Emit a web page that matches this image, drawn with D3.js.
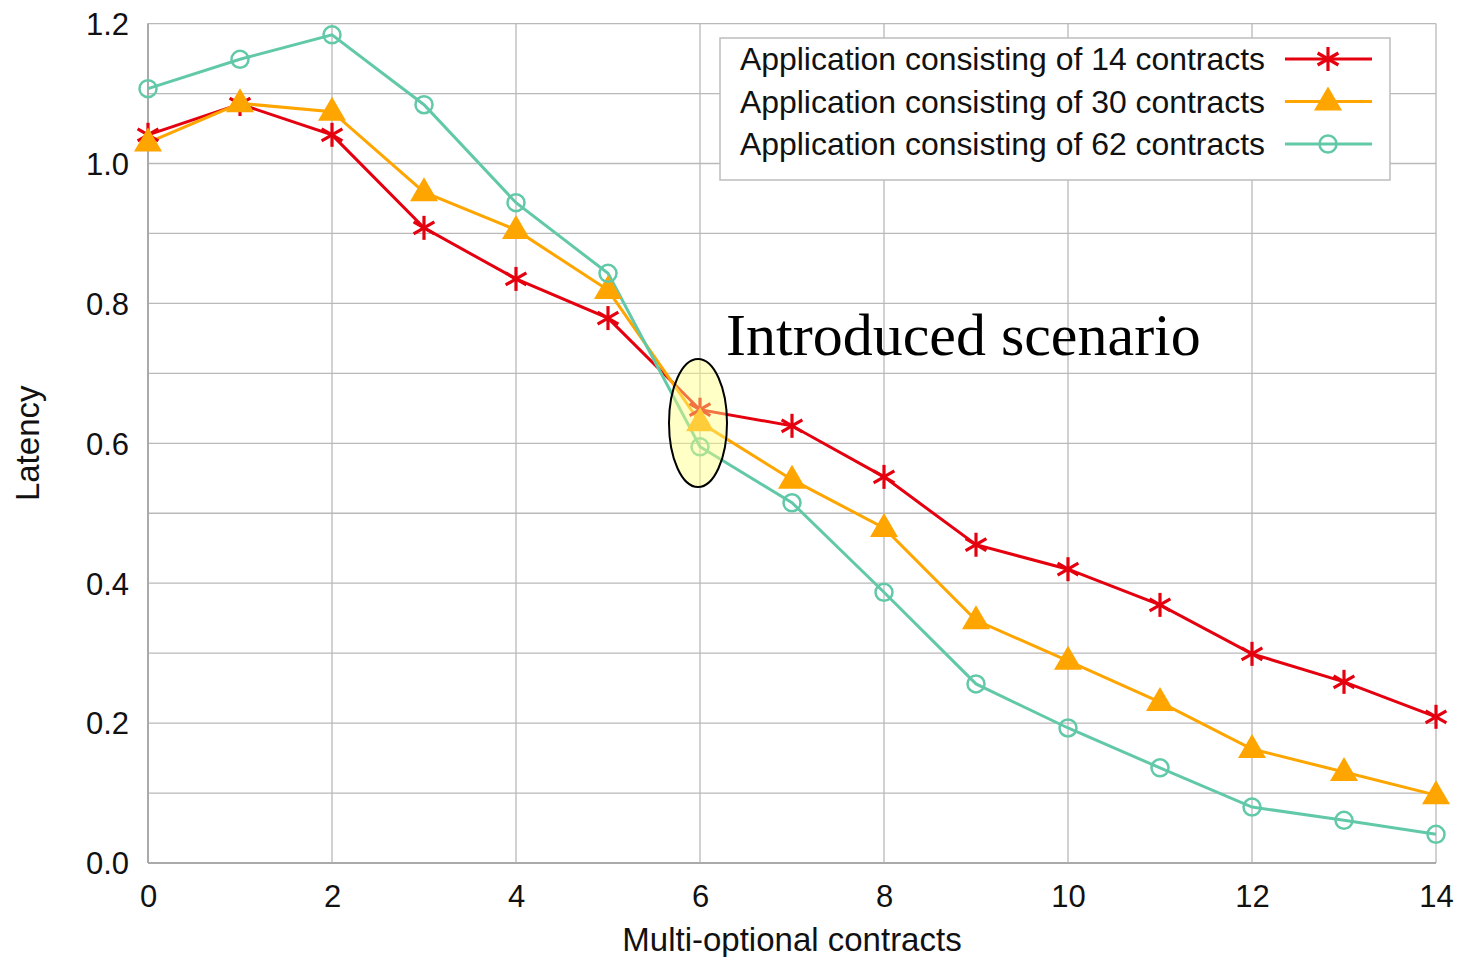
<!DOCTYPE html>
<html><head><meta charset="utf-8">
<script src="https://cdn.jsdelivr.net/npm/d3@7"></script>
<style>body{margin:0;background:#fff}svg{display:block}</style>
</head><body>
<svg id="c" width="1460" height="957"></svg>
<script>
const xValues = [0,1,2,3,4,5,6,7,8,9,10,11,12,13,14];
const seriesNames = ["Application consisting of 14 contracts","Application consisting of 30 contracts","Application consisting of 62 contracts"];
const s14 = [1.041,1.085,1.041,0.908,0.835,0.779,0.648,0.625,0.552,0.455,0.420,0.369,0.299,0.259,0.209];
const s30 = [1.030,1.086,1.074,0.959,0.905,0.819,0.630,0.548,0.479,0.347,0.289,0.230,0.163,0.130,0.097];
const s62 = [1.107,1.149,1.184,1.084,0.944,0.843,0.595,0.515,0.387,0.256,0.193,0.136,0.080,0.061,0.041];
const xTicks = [0,2,4,6,8,10,12,14];
const yTicks = [0,0.2,0.4,0.6,0.8,1.0,1.2];
const yGrid = [0,0.1,0.2,0.3,0.4,0.5,0.6,0.7,0.8,0.9,1.0,1.1,1.2];
const colors = ["#e5000f","#ffa500","#62c9a8"];
const markers = ["star","triangle","circle"];
const annotation = {text:"Introduced scenario", x:6};

const svg = d3.select("#c");
const x = d3.scaleLinear().domain([0,14]).range([148,1436]);
const y = d3.scaleLinear().domain([0,1.2]).range([863,23.6]);
const font = "'Liberation Sans', Arial, sans-serif";
const grid = "#b9b9b9";

// grids
svg.append("g").selectAll("line").data(yGrid).join("line")
  .attr("x1",x(0)).attr("x2",x(14)).attr("y1",d=>y(d)).attr("y2",d=>y(d))
  .attr("stroke",grid).attr("stroke-width",1.3);
svg.append("g").selectAll("line").data(xTicks).join("line")
  .attr("x1",d=>x(d)).attr("x2",d=>x(d)).attr("y1",y(0)).attr("y2",y(1.2))
  .attr("stroke",grid).attr("stroke-width",1.3);
// axis lines
svg.append("line").attr("x1",x(0)).attr("x2",x(0)).attr("y1",y(0)).attr("y2",y(1.2)).attr("stroke","#aaa").attr("stroke-width",2);
svg.append("line").attr("x1",x(0)).attr("x2",x(14)).attr("y1",y(0)).attr("y2",y(0)).attr("stroke","#aaa").attr("stroke-width",2);

// axes via d3
const xAxis = svg.append("g").attr("transform",`translate(0,${y(0)})`)
  .call(d3.axisBottom(x).tickValues(xTicks).tickSize(0).tickPadding(22).tickFormat(d3.format("d")));
const yAxis = svg.append("g").attr("transform",`translate(${x(0)},0)`)
  .call(d3.axisLeft(y).tickValues(yTicks).tickSize(0).tickPadding(19).tickFormat(d3.format(".1f")));
[xAxis,yAxis].forEach(a=>{a.select(".domain").remove();
  a.selectAll("text").attr("font-family",font).attr("font-size",31).attr("fill","#111");});
xAxis.selectAll("text").attr("dy","0.72em");
yAxis.selectAll("text").attr("dy","0.35em");

// axis titles
svg.append("text").attr("x",x(7)).attr("y",951).attr("text-anchor","middle")
  .attr("font-family",font).attr("font-size",33).attr("fill","#111").text("Multi-optional contracts");
svg.append("text").attr("transform",`translate(39,${y(0.6)}) rotate(-90)`).attr("text-anchor","middle")
  .attr("font-family",font).attr("font-size",33).attr("fill","#111").text("Latency");

function drawMarker(g,type,color,cx,cy){
  if(type==="star"){
    const r=12;
    [[0,1],[0.866,0.5],[0.866,-0.5]].forEach(([dx,dy])=>{
      g.append("line").attr("x1",cx-dx*r).attr("y1",cy-dy*r).attr("x2",cx+dx*r).attr("y2",cy+dy*r)
        .attr("stroke",color).attr("stroke-width",3.2);
    });
  } else if(type==="triangle"){
    g.append("path").attr("d",`M${cx},${cy-15}L${cx+14},${cy+9}L${cx-14},${cy+9}Z`).attr("fill",color);
  } else {
    g.append("circle").attr("cx",cx).attr("cy",cy).attr("r",8.5).attr("fill","none")
      .attr("stroke",color).attr("stroke-width",2.5);
  }
}

const data = [s14,s30,s62];
const line = d3.line().x((d,i)=>x(xValues[i])).y(d=>y(d));
data.forEach((s,k)=>{
  const g = svg.append("g");
  g.append("path").datum(s).attr("d",line).attr("fill","none").attr("stroke",colors[k]).attr("stroke-width",3);
});
data.forEach((s,k)=>{
  const g = svg.append("g");
  s.forEach((v,i)=>drawMarker(g,markers[k],colors[k],x(xValues[i]),y(v)));
});

// legend
const lg = svg.append("g");
lg.append("rect").attr("x",720).attr("y",38).attr("width",670).attr("height",142)
  .attr("fill","#fff").attr("stroke","#bdbdbd").attr("stroke-width",1.5);
seriesNames.forEach((n,k)=>{
  const cy = 59 + k*42.5;
  lg.append("text").attr("x",740).attr("y",cy).attr("dy","0.35em").attr("font-family",font)
    .attr("font-size",31.5).attr("fill","#111").attr("textLength",525).attr("lengthAdjust","spacingAndGlyphs").text(n);
  lg.append("line").attr("x1",1285).attr("x2",1372).attr("y1",cy).attr("y2",cy).attr("stroke",colors[k]).attr("stroke-width",3);
  drawMarker(lg,markers[k],colors[k],1328,cy);
});

// annotation
svg.append("ellipse").attr("cx",x(annotation.x)-2).attr("cy",423).attr("rx",29).attr("ry",64)
  .attr("fill","#ffff80").attr("fill-opacity",0.45).attr("stroke","#000").attr("stroke-width",2);
svg.append("text").attr("x",726).attr("y",355).attr("font-family","'Liberation Serif', 'Times New Roman', serif")
  .attr("font-size",60).attr("fill","#000").text(annotation.text);
</script>
</body></html>
